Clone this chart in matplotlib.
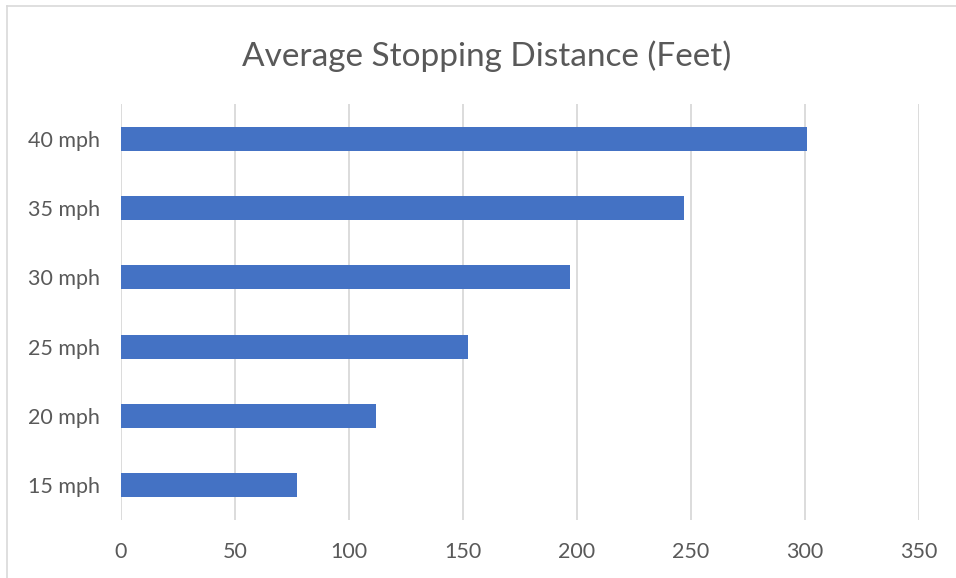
import matplotlib.pyplot as plt
from matplotlib.lines import Line2D

speeds = ['15 mph', '20 mph', '25 mph', '30 mph', '35 mph', '40 mph']
distance = [77, 112, 152, 197, 247, 301]
xticks = [0, 50, 100, 150, 200, 250, 300, 350]

plt.rcParams['font.family'] = ['Lato', 'DejaVu Sans']
grey = '#595959'

fig = plt.figure(figsize=(9.56, 5.78), dpi=100)
ax = fig.add_axes([121 / 956, 1 - 520 / 578, (919 - 121) / 956, (520 - 104) / 578])

ax.barh(range(len(speeds)), distance, height=0.35, color='#4472c4', zorder=3)

ax.set_xlim(0, 350)
ax.set_ylim(-0.5, len(speeds) - 0.5)
ax.set_xticks(xticks)
ax.set_yticks(range(len(speeds)))
ax.set_yticklabels(speeds)
ax.grid(axis='x', color='#d9d9d9', linewidth=1.3, zorder=0)
ax.tick_params(length=0, labelsize=15.5, colors=grey)
ax.tick_params(axis='y', pad=15)
ax.tick_params(axis='x', pad=16)
for s in ax.spines.values():
    s.set_visible(False)

fig.text(487 / 956, 1 - 56 / 578, 'Average Stopping Distance (Feet)',
         ha='center', va='center', fontsize=24, color=grey)

# chart frame edges
fig.add_artist(Line2D([7 / 956, 1], [1 - 6 / 578] * 2, color='#d9d9d9', lw=1.2))
fig.add_artist(Line2D([7 / 956] * 2, [0, 1 - 6 / 578], color='#d9d9d9', lw=1.2))

fig.savefig('out.png', dpi=100)
